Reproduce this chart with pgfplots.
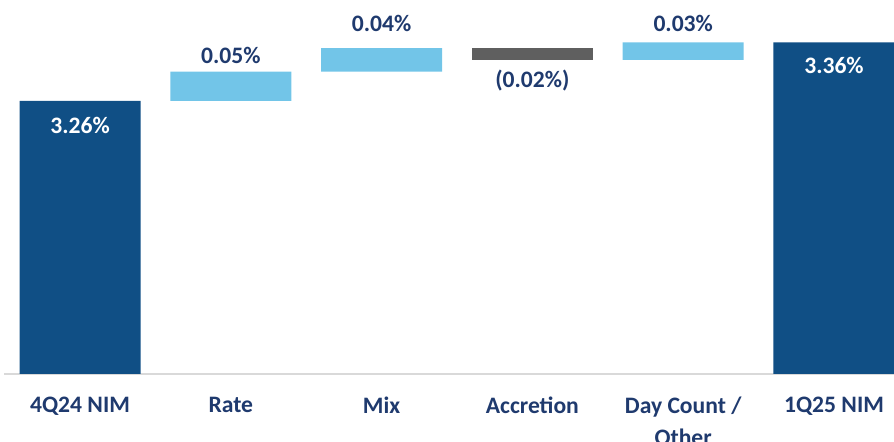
\documentclass[border=0pt]{standalone}
\usepackage{pgfplots}
\pgfplotsset{compat=1.18}
\usepackage{fontspec}
\setmainfont{Carlito}
\definecolor{navy}{HTML}{1F3A6E}
\definecolor{darkblue}{HTML}{104F85}
\definecolor{lightblue}{HTML}{72C5E8}
\definecolor{dgray}{HTML}{5F5F5F}
\definecolor{basegray}{HTML}{D9D9D9}
\tikzset{lbl/.style={anchor=base, font=\fontsize{11.8}{14}\selectfont\bfseries}}
\begin{document}
\begin{tikzpicture}
\begin{axis}[
  scale only axis,
  width=445pt, height=187pt,
  xmin=-0.504, xmax=5.398,
  ymin=2.795, ymax=3.432,
  ybar stacked, bar width=60.5pt,
  axis x line=bottom, axis y line=none,
  axis line style={basegray, line width=1pt, -},
  xtick={0,1,2,3,4,5},
  xticklabels={4Q24 NIM, Rate, Mix, Accretion, {Day Count /\\Other}, 1Q25 NIM},
  xticklabel style={align=center, font=\fontsize{11.8}{15.8}\selectfont\bfseries, text=navy, yshift=-8pt},
  major tick length=0pt,
  ytick=\empty,
]
\addplot[draw=none, fill=none] coordinates {(0,0) (1,3.26) (2,3.31) (3,3.33) (4,3.33) (5,0)};
\addplot[draw=none, fill=darkblue] coordinates {(0,3.26) (1,0) (2,0) (3,0) (4,0) (5,3.36)};
\addplot[draw=none, fill=lightblue] coordinates {(0,0) (1,0.05) (2,0.04) (3,0) (4,0.03) (5,0)};
\addplot[draw=none, fill=dgray] coordinates {(0,0) (1,0) (2,0) (3,0.02) (4,0) (5,0)};
\coordinate (l0) at (axis cs:0,3.205);
\coordinate (l1) at (axis cs:1,3.324);
\coordinate (l2) at (axis cs:2,3.378);
\coordinate (l3) at (axis cs:3,3.283);
\coordinate (l4) at (axis cs:4,3.378);
\coordinate (l5) at (axis cs:5,3.306);
\end{axis}
\node[lbl, text=white] at (l0) {3.26\%};
\node[lbl, text=navy] at (l1) {0.05\%};
\node[lbl, text=navy] at (l2) {0.04\%};
\node[lbl, text=navy] at (l3) {(0.02\%)};
\node[lbl, text=navy] at (l4) {0.03\%};
\node[lbl, text=white] at (l5) {3.36\%};
\pgfresetboundingbox
\path (-2pt,-33.5pt) rectangle (445pt,187pt);
\end{tikzpicture}
\end{document}
